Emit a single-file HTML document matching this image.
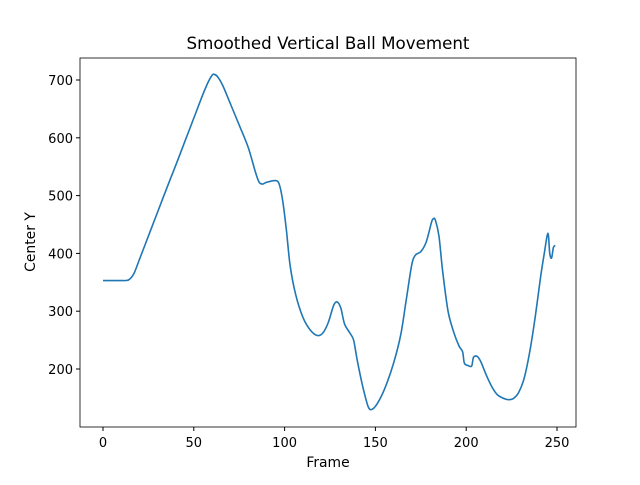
<!DOCTYPE html>
<html><head><meta charset="utf-8"><style>
body{margin:0;background:#fff}
svg text{font-family:"DejaVu Sans","Liberation Sans",sans-serif;fill:#000}
</style></head><body>
<svg id="chart" width="640" height="480" xmlns="http://www.w3.org/2000/svg">
<rect width="640" height="480" fill="#fff"/>
<text x="328" y="49" font-size="16.7" text-anchor="middle">Smoothed Vertical Ball Movement</text>
<g id="axes"></g>
<text x="328" y="467" font-size="13.9" text-anchor="middle">Frame</text>
<text x="35" y="242" font-size="13.9" text-anchor="middle" transform="rotate(-90 35 242)">Center Y</text>
</svg>
<script>
const frames=[0,5,10,14,17,20,25,30,35,40,45,50,55,58,60,61,63,66,70,75,80,84,86,88,90,95,97,99,101,103,106,110,114,118,121,124,127,129,131,133,136,138,140,143,146,148,151,155,160,164,167,170,172,175,178,181,182,183,185,187,190,193,196,198,199,201,203,204,206,208,211,214,217,220,223,226,229,232,235,238,241,243,245,246,247,248,249];
const centerY=[353,353,353,354,365,389,430,471,512,552,593,634,675,697,708,710,706,690,660,622,583,540,523,520,523,526,520,490,440,380,330,290,268,258,262,280,310,316,305,278,262,250,215,170,135,130,140,165,210,260,320,380,397,403,420,455,460,458,430,370,300,265,240,230,210,206,205,220,222,213,190,170,156,150,147,149,160,185,230,290,360,400,435,400,392,410,414];
const xTicks=[0,50,100,150,200,250];
const yTicks=[200,300,400,500,600,700];
const L=80,R=576,T=58,B=427;
const x=v=>103+v*(454/250);
const y=v=>80+(700-v)*(289/500);
const NS="http://www.w3.org/2000/svg";
const g=document.getElementById('axes');
function mk(t,a){const e=document.createElementNS(NS,t);for(const k in a)e.setAttribute(k,a[k]);g.appendChild(e);return e;}
xTicks.forEach(v=>{
 const l=mk('line',{x1:x(v),x2:x(v),y1:B,y2:B+4,stroke:'#000'});
 
 
 const t=mk('text',{x:x(v),y:B+20,'font-size':13,'text-anchor':'middle'});t.textContent=v;
 
 
});
yTicks.forEach(v=>{
 const l=mk('line',{x1:L-4,x2:L,y1:y(v),y2:y(v),stroke:'#000'});
 
 
 const t=mk('text',{x:L-7,y:y(v)+5,'font-size':13,'text-anchor':'end'});t.textContent=v;
 
 
});
const pts=frames.map((f,i)=>[x(f),y(centerY[i])]);
let d='M'+pts[0][0]+','+pts[0][1];
for(let i=0;i<pts.length-1;i++){
 const p0=pts[Math.max(i-1,0)],p1=pts[i],p2=pts[i+1],p3=pts[Math.min(i+2,pts.length-1)];
 const k=0.15;
 d+=' C'+(p1[0]+(p2[0]-p0[0])*k)+','+(p1[1]+(p2[1]-p0[1])*k)+' '+(p2[0]-(p3[0]-p1[0])*k)+','+(p2[1]-(p3[1]-p1[1])*k)+' '+p2[0]+','+p2[1];
}
const p=mk('path',{d:d,fill:'none',stroke:'#1f77b4','stroke-width':1.6,'stroke-linejoin':'round'});


const f=mk('rect',{x:L,y:T,width:R-L,height:B-T,fill:'none',stroke:'#000','stroke-width':0.8});


</script>
</body></html>
